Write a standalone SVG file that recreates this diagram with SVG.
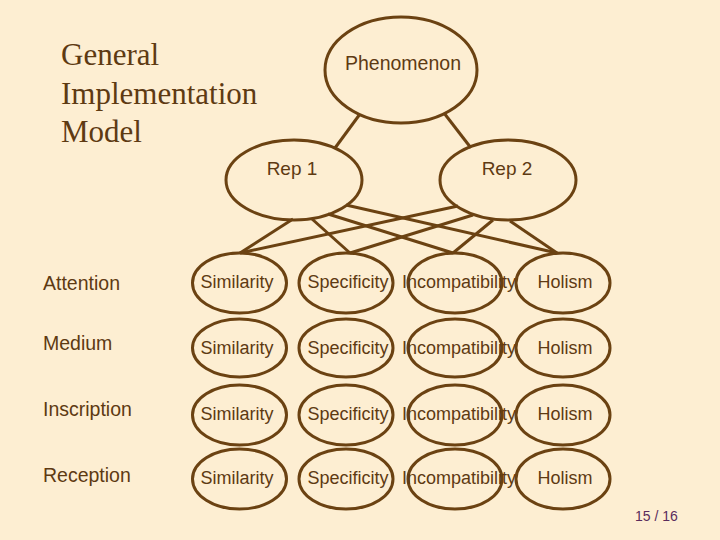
<svg xmlns="http://www.w3.org/2000/svg" width="720" height="540" viewBox="0 0 720 540">
<style>
.bg{fill:#FDEED2}
.node{fill:none;stroke:#6B4212;stroke-width:3}
.edge{stroke:#6B4212;stroke-width:3;fill:none}
.t{font-family:"Liberation Sans",Arial,sans-serif;fill:#5E3A12;text-anchor:middle}
.nt{font-size:18px}
.lab{font-family:"Liberation Sans",Arial,sans-serif;fill:#5E3A12;font-size:19.5px}
.title{font-family:"Liberation Serif","Times New Roman",serif;fill:#5E3A12;font-size:31px}
.pg{font-family:"Liberation Sans",Arial,sans-serif;fill:#5A2C5C;font-size:14px}
</style>
<rect class="bg" x="0" y="0" width="720" height="540"/>
<g id="title">
<text class="title" x="61" y="65">General</text>
<text class="title" x="61" y="104">Implementation</text>
<text class="title" x="61" y="142">Model</text>
</g>
<g id="connectors">
<line class="edge" x1="360" y1="114" x2="335" y2="148"/>
<line class="edge" x1="444" y1="113" x2="471" y2="148"/>
<line class="edge" x1="293" y1="219" x2="240" y2="253"/>
<line class="edge" x1="312" y1="219" x2="350" y2="253"/>
<line class="edge" x1="328" y1="214" x2="453" y2="253"/>
<line class="edge" x1="346" y1="205" x2="557" y2="253"/>
<line class="edge" x1="458" y1="206" x2="240" y2="253"/>
<line class="edge" x1="473" y1="215" x2="350" y2="253"/>
<line class="edge" x1="493" y1="220" x2="453" y2="253"/>
<line class="edge" x1="510" y1="221" x2="557" y2="253"/>
</g>
<g id="phenomenon">
<ellipse class="node" cx="401" cy="70" rx="76" ry="53"/>
<text class="t" x="403" y="70" font-size="19.5">Phenomenon</text>
</g>
<g id="rep1">
<ellipse class="node" cx="294" cy="180" rx="68" ry="40"/>
<text class="t" x="292" y="175" font-size="19">Rep 1</text>
</g>
<g id="rep2">
<ellipse class="node" cx="508" cy="180" rx="68" ry="40"/>
<text class="t" x="507" y="175" font-size="19">Rep 2</text>
</g>
<g id="row-labels">
<text class="lab" x="43" y="290">Attention</text>
<text class="lab" x="43" y="350">Medium</text>
<text class="lab" x="43" y="416">Inscription</text>
<text class="lab" x="43" y="482">Reception</text>
</g>
<g id="row1">
<g id="sim1"><ellipse class="node" cx="239.5" cy="283" rx="47" ry="30"/><text class="t nt" x="237" y="288">Similarity</text></g>
<g id="spe1"><ellipse class="node" cx="346" cy="283" rx="47" ry="30"/><text class="t nt" x="348" y="288">Specificity</text></g>
<g id="inc1"><ellipse class="node" cx="455" cy="283" rx="47" ry="30"/><text class="t nt" x="459" y="288">Incompatibility</text></g>
<g id="hol1"><ellipse class="node" cx="563" cy="283" rx="47" ry="30"/><text class="t nt" x="565" y="288">Holism</text></g>
</g>
<g id="row2">
<g id="sim2"><ellipse class="node" cx="239.5" cy="348" rx="47" ry="29"/><text class="t nt" x="237" y="354">Similarity</text></g>
<g id="spe2"><ellipse class="node" cx="346" cy="348" rx="47" ry="29"/><text class="t nt" x="348" y="354">Specificity</text></g>
<g id="inc2"><ellipse class="node" cx="455" cy="348" rx="47" ry="29"/><text class="t nt" x="459" y="354">Incompatibility</text></g>
<g id="hol2"><ellipse class="node" cx="563" cy="348" rx="47" ry="29"/><text class="t nt" x="565" y="354">Holism</text></g>
</g>
<g id="row3">
<g id="sim3"><ellipse class="node" cx="239.5" cy="415" rx="47" ry="30"/><text class="t nt" x="237" y="420">Similarity</text></g>
<g id="spe3"><ellipse class="node" cx="346" cy="415" rx="47" ry="30"/><text class="t nt" x="348" y="420">Specificity</text></g>
<g id="inc3"><ellipse class="node" cx="455" cy="415" rx="47" ry="30"/><text class="t nt" x="459" y="420">Incompatibility</text></g>
<g id="hol3"><ellipse class="node" cx="563" cy="415" rx="47" ry="30"/><text class="t nt" x="565" y="420">Holism</text></g>
</g>
<g id="row4">
<g id="sim4"><ellipse class="node" cx="239.5" cy="479" rx="47" ry="30"/><text class="t nt" x="237" y="484">Similarity</text></g>
<g id="spe4"><ellipse class="node" cx="346" cy="479" rx="47" ry="30"/><text class="t nt" x="348" y="484">Specificity</text></g>
<g id="inc4"><ellipse class="node" cx="455" cy="479" rx="47" ry="30"/><text class="t nt" x="459" y="484">Incompatibility</text></g>
<g id="hol4"><ellipse class="node" cx="563" cy="479" rx="47" ry="30"/><text class="t nt" x="565" y="484">Holism</text></g>
</g>
<text class="pg" x="635" y="521">15 / 16</text>
</svg>
